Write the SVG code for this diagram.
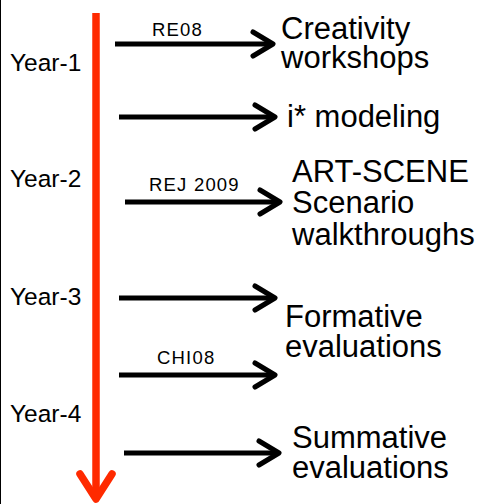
<svg xmlns="http://www.w3.org/2000/svg" width="483" height="504" viewBox="0 0 483 504">
  <style>
    .lbl { font-family: "Liberation Sans", Arial, sans-serif; fill: #000; }
    .year { font-size: 24.5px; }
    .ref { font-size: 18.5px; letter-spacing: 1.2px; }
    .act { font-size: 31px; }
    .arrow { fill: none; stroke: #000; stroke-width: 5; stroke-linecap: butt; }
    .head { fill: none; stroke: #000; stroke-width: 5; stroke-linecap: round; stroke-linejoin: round; }
    .timeline { fill: none; stroke: #ff2a00; stroke-width: 7.5; stroke-linecap: round; stroke-linejoin: round; }
  </style>
  <rect x="0" y="0" width="483" height="504" fill="#fff"/>
  <line x1="0.5" y1="0" x2="0.5" y2="504" stroke="#000" stroke-width="1"/>

  <g id="timeline">
    <line class="timeline" x1="96" y1="13" x2="96" y2="498" style="stroke-linecap:butt"/>
    <path class="timeline" d="M80,474 L96,499 L112,474"/>
  </g>

  <g id="years">
    <text class="lbl year" x="10" y="71">Year-1</text>
    <text class="lbl year" x="10" y="187">Year-2</text>
    <text class="lbl year" x="10" y="305">Year-3</text>
    <text class="lbl year" x="10" y="422">Year-4</text>
  </g>

  <g id="connectors">
    <path class="arrow" d="M115,44 H272"/>
    <path class="head" d="M253,32 L273,44 L253,56"/>
    <path class="arrow" d="M119,117 H274"/>
    <path class="head" d="M255,105 L275,117 L255,129"/>
    <path class="arrow" d="M125,202 H279"/>
    <path class="head" d="M260,190 L280,202 L260,214"/>
    <path class="arrow" d="M119,298 H274"/>
    <path class="head" d="M255,286 L275,298 L255,310"/>
    <path class="arrow" d="M119,375 H274"/>
    <path class="head" d="M255,363 L275,375 L255,387"/>
    <path class="arrow" d="M124,453 H278"/>
    <path class="head" d="M259,441 L279,453 L259,465"/>
  </g>

  <g id="refs">
    <text class="lbl ref" x="152" y="36">RE08</text>
    <text class="lbl ref" x="149" y="191">REJ 2009</text>
    <text class="lbl ref" x="157" y="364">CHI08</text>
  </g>

  <g id="node-creativity">
    <text class="lbl act" x="281" y="39">Creativity</text>
    <text class="lbl act" x="281" y="68">workshops</text>
  </g>
  <g id="node-istar">
    <text class="lbl act" x="287" y="127">i* modeling</text>
  </g>
  <g id="node-artscene">
    <text class="lbl act" x="292" y="182">ART-SCENE</text>
    <text class="lbl act" x="292" y="213">Scenario</text>
    <text class="lbl act" x="292" y="245">walkthroughs</text>
  </g>
  <g id="node-formative">
    <text class="lbl act" x="285" y="327">Formative</text>
    <text class="lbl act" x="285" y="357">evaluations</text>
  </g>
  <g id="node-summative">
    <text class="lbl act" x="292" y="448">Summative</text>
    <text class="lbl act" x="292" y="478">evaluations</text>
  </g>
</svg>
